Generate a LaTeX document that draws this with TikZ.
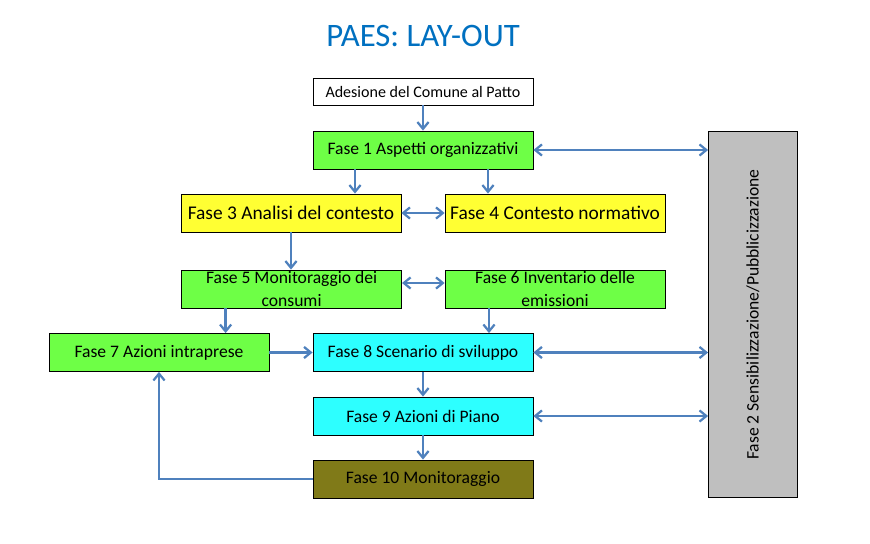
\documentclass[tikz,border=0pt]{standalone}
\usepackage{fontspec}
\setmainfont{Carlito}
\usetikzlibrary{positioning,arrows.meta}
\definecolor{titleblue}{RGB}{0,112,192}
\definecolor{arrowblue}{RGB}{79,129,189}
\definecolor{fasegreen}{RGB}{110,255,70}
\definecolor{faseyellow}{RGB}{255,255,51}
\definecolor{fasecyan}{RGB}{45,255,255}
\definecolor{faseolive}{RGB}{128,122,24}
\definecolor{fasegrey}{RGB}{191,191,191}

\begin{document}
\begin{tikzpicture}[
    box/.style={
        draw=black,
        line width=0.6pt,
        minimum width=5.5cm,
        minimum height=0.95cm,
        inner sep=1pt,
        align=center,
        font=\fontsize{12.5}{16}\selectfont
    },
    arr/.style={
        -{Straight Barb[length=1.7mm,width=2.8mm]},
        line width=1.6pt,
        draw=arrowblue
    },
    dbl/.style={
        {Straight Barb[length=1.7mm,width=2.8mm]}-{Straight Barb[length=1.7mm,width=2.8mm]},
        line width=1.6pt,
        draw=arrowblue
    }
]

\useasboundingbox (0,0) rectangle (21.75,-13.6);

% ============================================================
% TITLE
% ============================================================

\node[font=\fontsize{23.3}{26}\selectfont, titleblue] (title) at (10.575,-0.9)
{PAES: LAY-OUT};

% ============================================================
% TOP ROWS
% ============================================================

\node[box, fill=white, minimum height=0.675cm, font=\fontsize{11.4}{13}\selectfont] (adesione) at (10.575,-2.2875)
{Adesione del Comune al Patto};

\node[box, fill=fasegreen] (fase1) at (10.575,-3.75)
{Fase 1 Aspetti organizzativi};

\node[box, fill=faseyellow, font=\fontsize{13.8}{16}\selectfont] (fase3) at (7.275,-5.325)
{Fase 3 Analisi del contesto};

\node[box, fill=faseyellow, font=\fontsize{13.8}{16}\selectfont] (fase4) at (13.875,-5.325)
{Fase 4 Contesto normativo};

\node[box, fill=fasegreen] (fase5) at (7.29,-7.225)
{Fase 5 Monitoraggio dei\\consumi};

\node[box, fill=fasegreen] (fase6) at (13.875,-7.225)
{Fase 6 Inventario delle\\emissioni};

\draw[arr] (adesione.south) -- (fase1.north);
\draw[arr] ([xshift=-1.7cm]fase1.south) -- ([xshift=-1.7cm]fase1.south |- fase3.north);
\draw[arr] ([xshift=1.625cm]fase1.south) -- ([xshift=1.625cm]fase1.south |- fase4.north);
\draw[dbl] (fase3.east) -- (fase4.west);
\draw[arr] (fase3.south) -- (fase3.south |- fase5.north);
\draw[dbl] ([yshift=0.15cm]fase5.east) -- ([yshift=0.15cm]fase6.west);

% ============================================================
% LOWER ROWS
% ============================================================

\node[box, fill=fasegreen] (fase7) at (3.975,-8.8125)
{Fase 7 Azioni intraprese};

\node[box, fill=fasecyan] (fase8) at (10.575,-8.8125)
{Fase 8 Scenario di sviluppo};

\node[box, fill=fasecyan] (fase9) at (10.575,-10.4)
{Fase 9 Azioni di Piano};

\node[box, fill=faseolive] (fase10) at (10.575,-11.975)
{Fase 10 Monitoraggio};

\draw[arr] ([xshift=-1.65cm]fase5.south) -- ([xshift=-1.65cm]fase5.south |- fase7.north);
\draw[arr] ([xshift=-1.65cm]fase6.south) -- ([xshift=-1.65cm]fase6.south |- fase8.north);
\draw[arr] (fase7.east) -- (fase8.west);
\draw[arr] (fase8.south) -- (fase9.north);
\draw[arr] (fase9.south) -- (fase10.north);
\draw[arr] (fase10.west) -| (fase7.south);

% ============================================================
% FASE 2 ON THE RIGHT
% ============================================================

\node[box, fill=fasegrey, minimum width=2.225cm, minimum height=9.15cm] (fase2) at (18.825,-7.8625)
{};
\node[rotate=90, font=\fontsize{12.5}{15}\selectfont] (fase2text) at (fase2.center)
{Fase 2 Sensibilizzazione/Pubblicizzazione};

\draw[dbl] (fase1.east) -- (fase1.east -| fase2.west);
\draw[dbl] (fase8.east) -- (fase8.east -| fase2.west);
\draw[dbl] (fase9.east) -- (fase9.east -| fase2.west);

\end{tikzpicture}
\end{document}
